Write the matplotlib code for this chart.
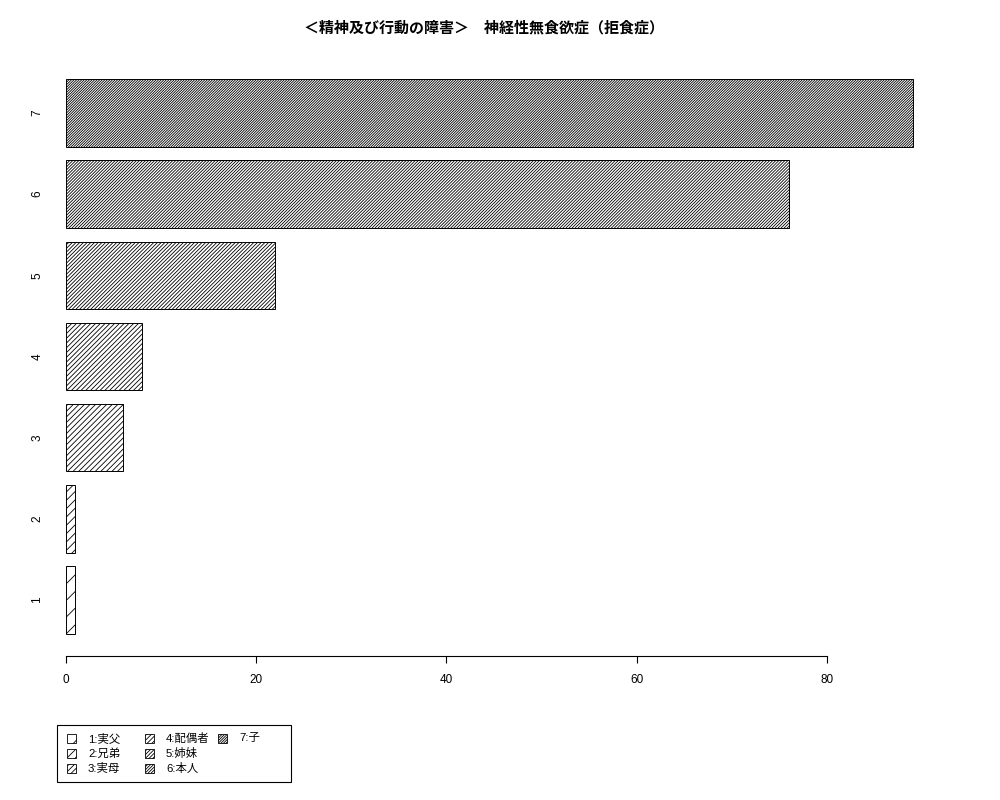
import matplotlib
matplotlib.use('Agg')
import matplotlib.pyplot as plt
import matplotlib.patches as mpatches
import numpy as np

plt.rcParams['font.family'] = ['Liberation Sans', 'Noto Sans CJK JP', 'DejaVu Sans']
plt.rcParams['hatch.linewidth'] = 0.6

title = '＜精神及び行動の障害＞　神経性無食欲症（拒食症）'
names = ['1', '2', '3', '4', '5', '6', '7']
values = [1, 1, 6, 8, 22, 76, 89]
legend_labels = ['1:実父', '2:兄弟', '3:実母', '4:配偶者', '5:姉妹', '6:本人', '7:子']
xticks = [0, 20, 40, 60, 80]

W, H = 1000, 800
fig = plt.figure(figsize=(10, 8), dpi=100)
ax = fig.add_axes([0.032, 0.18, 0.9145, 0.74875])

pos = 0.7 + 1.2 * np.arange(len(values))
# hatch density grows from bar to bar
dens = [2, 4, 6, 7, 9, 11, 13]
hatches = ['/' * d for d in dens]
bars = ax.barh(pos, values, height=1, left=0, color='white', edgecolor='black', linewidth=0.7)
for b, h in zip(bars, hatches):
    b.set_hatch(h)

ax.set_xlim(-3.56, 92.56)
ax.set_ylim(-0.128, 8.728)
for s in ['left', 'top', 'right']:
    ax.spines[s].set_visible(False)
ax.spines['bottom'].set_bounds(0, 80)
ax.spines['bottom'].set_linewidth(0.8)
ax.set_xticks(xticks)
ax.set_xticklabels([str(t) for t in xticks], fontsize=8.5)
ax.tick_params(axis='x', length=5, width=0.8, pad=8)
ax.set_yticks([])
for p, n in zip(pos, names):
    ax.text(-3.0, p, n, rotation=90, ha='center', va='center', fontsize=8.5)

fig.text(0.484, 1 - 28 / H, title, ha='center', va='center', fontsize=10.8, fontweight='bold')

# legend box drawn by hand (R style: column-major, equal column widths)
fr = mpatches.Rectangle((57 / W, 1 - 782 / H), 234 / W, 57 / H, transform=fig.transFigure,
                        facecolor='none', edgecolor='black', linewidth=0.8)
fig.add_artist(fr)
col_x = [67, 145, 218]
row_y = [738, 753, 768]
for i, (lab, h) in enumerate(zip(legend_labels, hatches)):
    x0 = col_x[i // 3]
    y0 = row_y[i % 3]
    fig.add_artist(mpatches.Rectangle((x0 / W, 1 - (y0 + 4.5) / H), 9 / W, 9 / H,
                                      transform=fig.transFigure, facecolor='white',
                                      edgecolor='black', hatch=h, linewidth=0.6))
    fig.text((x0 + 21) / W, 1 - (y0 + 0.5) / H, lab, ha='left', va='center', fontsize=8.2)

fig.savefig('out.png', dpi=100)
